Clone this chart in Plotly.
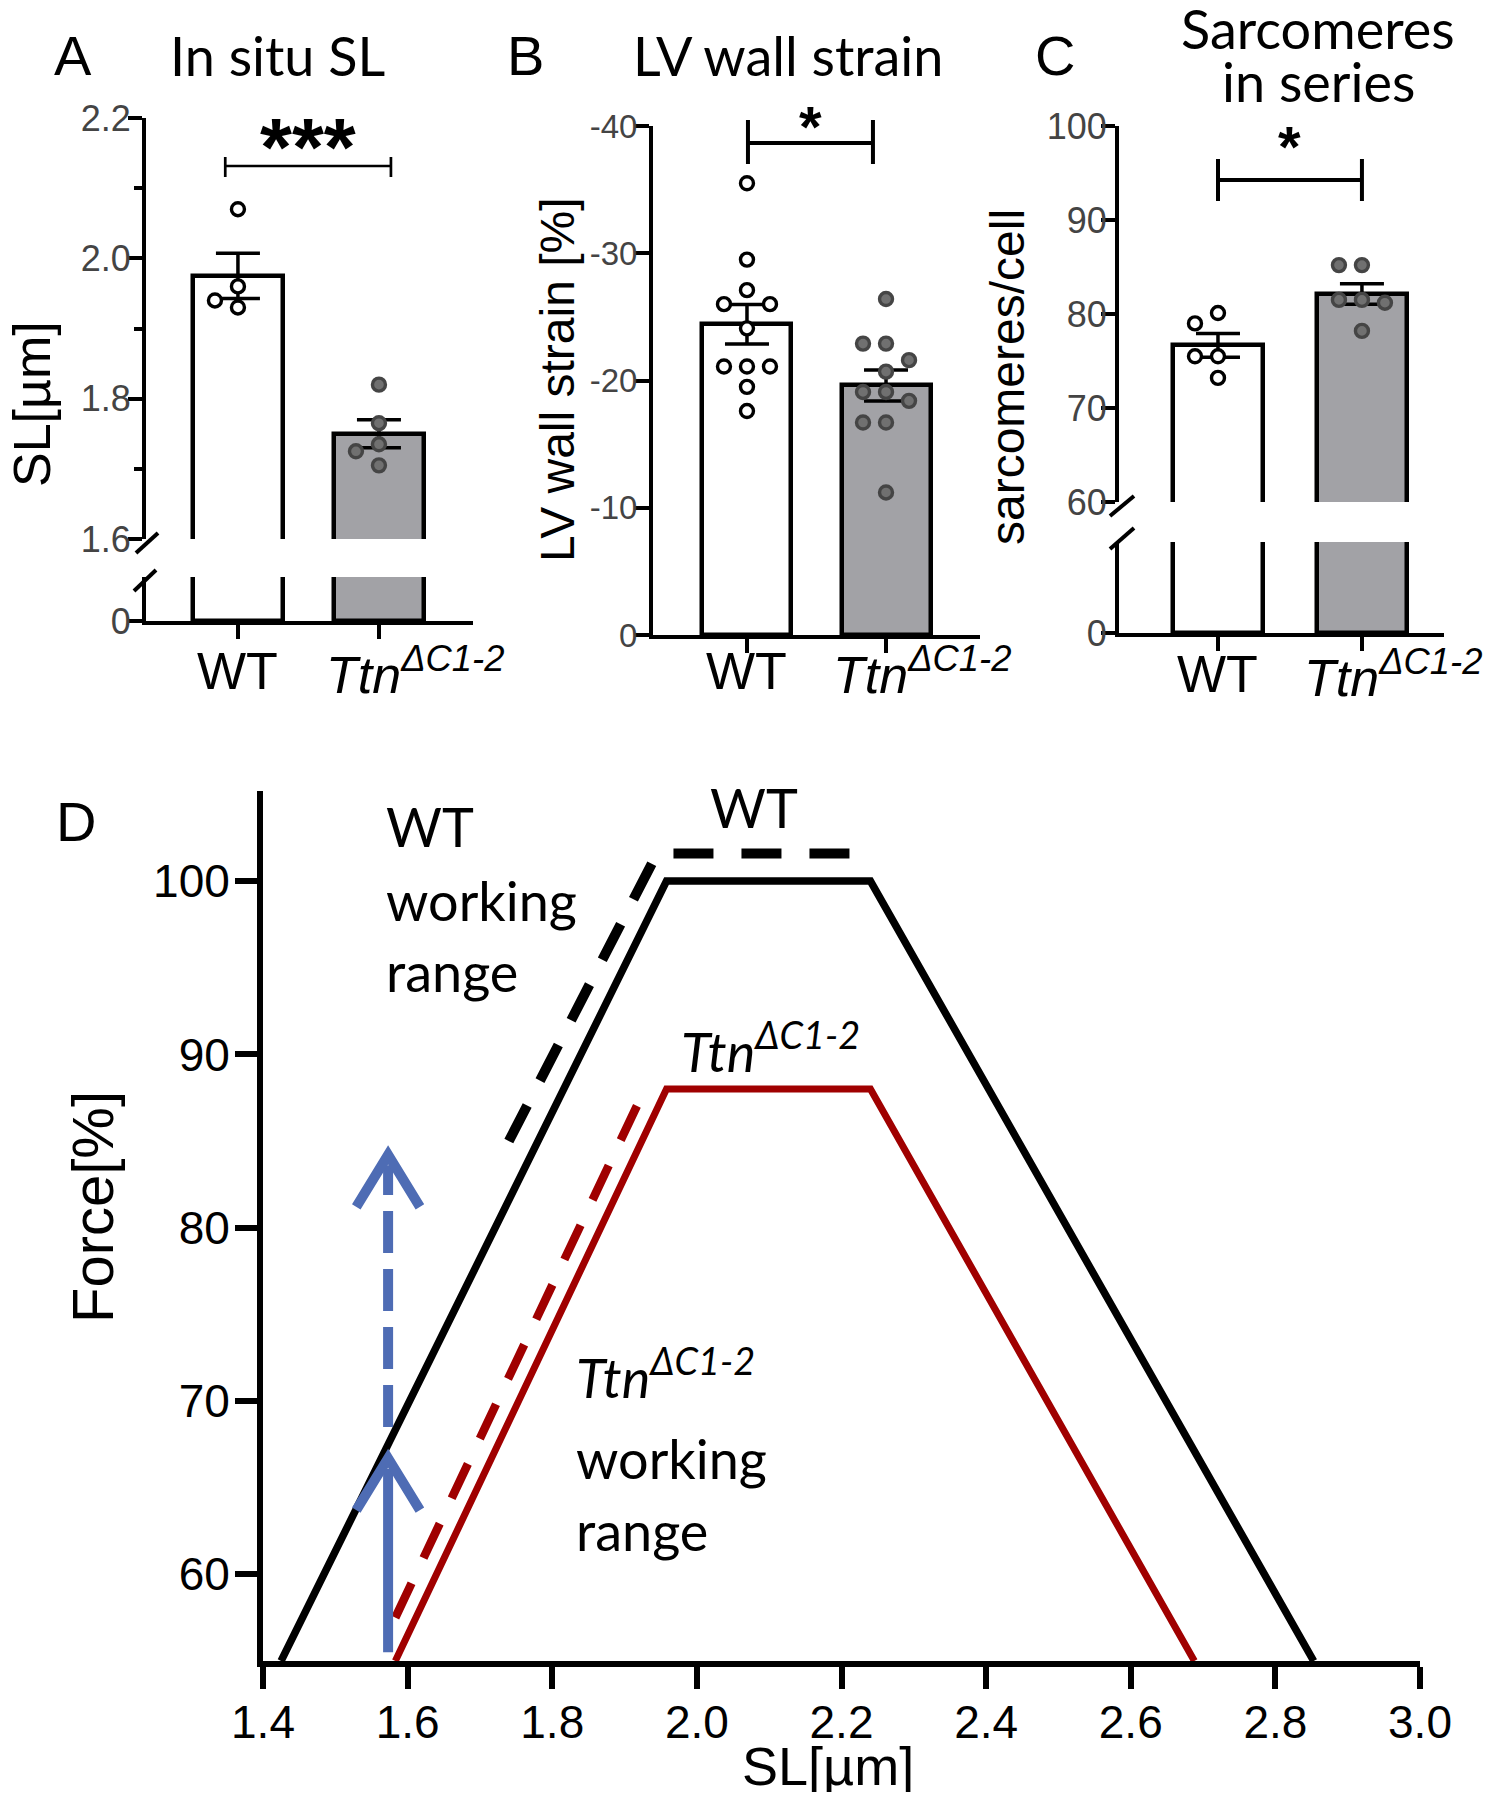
import numpy as np
import plotly.graph_objects as go

# ---------------- data ----------------
group_pos = [0, 1]
group_names = ["WT", "<i>Ttn</i><sup><i>ΔC1-2</i></sup>"]

# A: in situ sarcomere length [um]
sl_wt = [2.07, 1.96, 1.94, 1.93]
sl_ttn = [1.82, 1.765, 1.735, 1.725, 1.705]
# B: LV wall strain [%]
strain_wt = [-35.5, -29.5, -27.1, -26.0, -26.0, -24.1, -21.1, -21.1, -21.1, -19.5, -17.6]
strain_ttn = [-26.4, -22.9, -22.9, -21.6, -20.7, -19.1, -19.1, -18.4, -16.7, -16.7, -11.2]
# C: sarcomeres in series per cell
sarc_wt = [80.1, 79.0, 75.5, 75.5, 73.2]
sarc_ttn = [85.2, 85.2, 81.5, 81.5, 81.2, 78.2]

sig_a, sig_b, sig_c = "***", "*", "*"

a_ticks = [1.6, 1.8, 2.0, 2.2]
a_minor = [1.7, 1.9, 2.1]
b_ticks = [0, -10, -20, -30, -40]
b_ticktext = ["0", "-10", "-20", "-30", "-40"]
c_ticks = [60, 70, 80, 90, 100]

# D: schematic force-SL relations
wt_fl_sl = [1.425, 1.958, 2.24, 2.853]
wt_fl_force = [55, 100, 100, 55]
ttn_fl_sl = [1.583, 1.958, 2.24, 2.688]
ttn_fl_force = [55, 88, 88, 55]
wt_range_sl = [1.74, 1.945, 2.22]
wt_range_force = [85.0, 101.6, 101.6]
ttn_range_sl = [1.583, 1.928]
ttn_range_force = [57.5, 88.0]
arrow_sl = 1.573
arrow_solid_force = [55.5, 66.7]
arrow_dashed_force = [68.5, 84.2]
d_xticks = [1.4, 1.6, 1.8, 2.0, 2.2, 2.4, 2.6, 2.8, 3.0]
d_yticks = [60, 70, 80, 90, 100]

# ---------------- styling / layout helpers ----------------
W, H, OFF = 1476, 1784, 8
def fx(p):
    return (p - OFF) / W
def fy(p):
    return 1 - (p - OFF) / H

ARIAL = "Liberation Sans, Arial, sans-serif"
LATO = "Lato, Open Sans, sans-serif"
GRAY_BAR = "#a2a2a6"
DOT_FILL = "#707070"
DOT_LINE = "#454545"
RED = "#a00000"
BLUE = "#4e6cb4"
TICKC = "#444444"

def mean_sem(v):
    a = np.asarray(v, float)
    return a.mean(), a.std(ddof=1) / np.sqrt(len(a))

def swarm(vals, ypx, xpx, slot=23.0, mind=17.0):
    placed, offs = [], []
    for v in vals:
        yv = v * ypx
        for k in [0, -1, 1, -2, 2, -3, 3]:
            xv = k * slot
            if all(np.hypot(xv - px_, yv - py_) >= mind for px_, py_ in placed):
                break
        placed.append((xv, yv))
        offs.append(xv / xpx)
    return offs

fig = go.Figure()

def bar_panel(xa, ya_up, ya_lo, wt, ttn, xpx, ypx, bw):
    m1, s1 = mean_sem(wt)
    m2, s2 = mean_sem(ttn)
    for ya, err in [(ya_up, True), (ya_lo, False)]:
        if ya is None:
            continue
        fig.add_trace(go.Bar(
            x=group_pos, y=[m1, m2], width=bw, xaxis=xa, yaxis=ya,
            marker=dict(color=["white", GRAY_BAR], line=dict(color="black", width=4.5)),
            error_y=dict(type="data", array=[s1, s2], color="black", thickness=3.5, width=22, visible=err),
            showlegend=False, hoverinfo="skip"))
    for g, vals, fill, lc in [(0, wt, "white", "black"), (1, ttn, DOT_FILL, DOT_LINE)]:
        offs = swarm(vals, ypx, xpx)
        fig.add_trace(go.Scatter(
            x=[g + o for o in offs], y=vals, mode="markers", xaxis=xa, yaxis=ya_up,
            marker=dict(size=13, color=fill, line=dict(color=lc, width=3.4)),
            cliponaxis=False, showlegend=False, hoverinfo="skip"))

# panel A
bar_panel("x", "y", "y2", sl_wt, sl_ttn, 141.0, (539 - 118) / 0.6, 0.64)
# panel B
bar_panel("x2", "y3", None, strain_wt, strain_ttn, 139.0, (635 - 126) / 40.0, 0.64)
# panel C
bar_panel("x3", "y4", "y5", sarc_wt, sarc_ttn, 144.0, (502 - 126) / 40.0, 0.62)

# panel D lines
fig.add_trace(go.Scatter(x=wt_fl_sl, y=wt_fl_force, mode="lines", xaxis="x4", yaxis="y6",
                         line=dict(color="black", width=7.5), showlegend=False, hoverinfo="skip"))
fig.add_trace(go.Scatter(x=ttn_fl_sl, y=ttn_fl_force, mode="lines", xaxis="x4", yaxis="y6",
                         line=dict(color=RED, width=7), showlegend=False, hoverinfo="skip"))
fig.add_trace(go.Scatter(x=wt_range_sl, y=wt_range_force, mode="lines", xaxis="x4", yaxis="y6",
                         line=dict(color="black", width=10, dash="40px,28px"), showlegend=False, hoverinfo="skip"))
fig.add_trace(go.Scatter(x=ttn_range_sl, y=ttn_range_force, mode="lines", xaxis="x4", yaxis="y6",
                         line=dict(color=RED, width=8.5, dash="38px,28px"), showlegend=False, hoverinfo="skip"))
chev_dx, chev_dy = 0.044, 3.0
for f, dash in [(arrow_solid_force, "solid"), (arrow_dashed_force, "42px,16px")]:
    fig.add_trace(go.Scatter(x=[arrow_sl, arrow_sl], y=[f[0], f[1] - 0.6], mode="lines", xaxis="x4", yaxis="y6",
                             line=dict(color=BLUE, width=10, dash=dash), showlegend=False, hoverinfo="skip"))
    fig.add_trace(go.Scatter(x=[arrow_sl - chev_dx, arrow_sl, arrow_sl + chev_dx],
                             y=[f[1] - chev_dy, f[1], f[1] - chev_dy], mode="lines", xaxis="x4", yaxis="y6",
                             line=dict(color=BLUE, width=10), showlegend=False, hoverinfo="skip"))

# ---------------- axes ----------------
def ax_common(lw=4, tl=14, font=None, standoff=-10):
    return dict(showline=True, linewidth=lw, linecolor="black", ticks="outside", ticklen=tl,
                tickwidth=lw, tickcolor="black", showgrid=False, zeroline=False, fixedrange=True,
                automargin=False, ticklabelstandoff=standoff,
                tickfont=font or dict(family=ARIAL, size=36, color=TICKC))

BFONT = dict(family=ARIAL, size=33, color=TICKC)
DFONT = dict(family=ARIAL, size=46, color="black")
lay = dict(
    width=W, height=H, margin=dict(l=0, r=0, t=0, b=0, pad=0, autoexpand=False),
    paper_bgcolor="white", plot_bgcolor="rgba(0,0,0,0)", showlegend=False, bargap=0,
    xaxis=dict(domain=[fx(146), fx(473)], range=[-0.652, 1.667], anchor="y2",
               tickvals=group_pos, showticklabels=False, **ax_common()),
    yaxis=dict(domain=[fy(539), fy(118)], range=[1.6, 2.2], anchor="x", tickvals=a_ticks,
               tickformat=".1f", minor=dict(tickvals=a_minor, ticks="outside", ticklen=8, tickwidth=4,
                                            tickcolor="black"), **ax_common()),
    yaxis2=dict(domain=[fy(621), fy(577)], range=[0, 1], anchor="x", tickvals=[0], **ax_common()),
    xaxis2=dict(domain=[fx(653), fx(980)], range=[-0.676, 1.676], anchor="y3",
                tickvals=group_pos, showticklabels=False, **ax_common()),
    yaxis3=dict(domain=[fy(635), fy(126)], range=[0, -40], anchor="x2", tickvals=b_ticks,
                ticktext=b_ticktext, **ax_common(font=BFONT, standoff=-9)),
    xaxis3=dict(domain=[fx(1119), fx(1444)], range=[-0.6875, 1.57], anchor="y5",
                tickvals=group_pos, showticklabels=False, **ax_common()),
    yaxis4=dict(domain=[fy(502), fy(126)], range=[60, 100], anchor="x3", tickvals=c_ticks,
                **ax_common(standoff=-13)),
    yaxis5=dict(domain=[fy(633), fy(542)], range=[0, 1], anchor="x3", tickvals=[0],
                **ax_common(standoff=-13)),
    xaxis4=dict(domain=[fx(263), fx(1420)], range=[1.4, 3.0], anchor="y6", tickvals=d_xticks,
                tickformat=".1f", **ax_common(lw=6, tl=22, font=DFONT, standoff=-6)),
    yaxis6=dict(domain=[fy(1661), fy(791)], range=[55, 105.2], anchor="x4", tickvals=d_yticks,
                **ax_common(lw=6, tl=22, font=DFONT, standoff=-4)),
)
fig.update_layout(**lay)

# ---------------- annotations ----------------
ann = []
def txt(text, x, y, size, family=ARIAL, xanchor="center", angle=0, color="black", xref="paper", xshift=0):
    ann.append(dict(text=text, x=x if xref != "paper" else fx(x), y=fy(y), xref=xref, yref="paper",
                    xanchor=xanchor, yanchor="middle", showarrow=False, textangle=angle, xshift=xshift,
                    font=dict(family=family, size=size, color=color)))

# panel letters and titles
txt("A", 73, 55, 56)
txt("In situ SL", 277, 55, 54, LATO)
txt("B", 525, 55, 56)
txt("LV wall strain", 788, 55, 54, LATO)
txt("C", 1055, 55, 56)
txt("Sarcomeres", 1318, 28, 54, LATO)
txt("in series", 1318, 82, 54, LATO)
# y titles
txt("SL[µm]", 32, 404, 52, angle=-90)
txt("LV wall strain [%]", 557, 380, 48, angle=-90)
txt("sarcomeres/cell", 1008, 377, 48, angle=-90)
# category labels
for xa, yv, sh in [("x", 671, 36), ("x2", 671, 36), ("x3", 674, 31)]:
    txt(group_names[0], group_pos[0], yv, 52, xref=xa)
    txt(group_names[1], group_pos[1], yv, 52, xref=xa, xshift=sh)

# significance brackets
shapes = []
def bracket(xa, x0, x1, y, yt, yb, lw, label, ylab, size):
    for xs in (x0, x1):
        shapes.append(dict(type="line", xref=xa, yref="paper", x0=xs, x1=xs, y0=fy(yt), y1=fy(yb),
                           line=dict(color="black", width=lw)))
    shapes.append(dict(type="line", xref=xa, yref="paper", x0=x0, x1=x1, y0=fy(y), y1=fy(y),
                       line=dict(color="black", width=lw)))
    txt("<b>" + label + "</b>", (x0 + x1) / 2, ylab, size, xref=xa)

bracket("x", -0.09, 1.085, 166, 157, 177, 2.7, sig_a, 146, 82)
bracket("x2", 0.007, 0.906, 143, 120, 164, 4, sig_b, 126, 58)
bracket("x3", 0.0, 1.0, 180, 159, 201, 4, sig_c, 146, 58)

# axis break slashes
for (xa0, ya0, xa1, ya1) in [(136, 553, 158, 533), (134, 591, 156, 570),
                             (1110, 516, 1134, 496), (1110, 549, 1134, 528)]:
    shapes.append(dict(type="line", xref="paper", yref="paper", x0=fx(xa0), y0=fy(ya0), x1=fx(xa1), y1=fy(ya1),
                       line=dict(color="black", width=4)))

# panel D text
txt("D", 76, 821, 56)
txt("Force[%]", 92, 1207, 58, angle=-90)
txt("SL[µm]", 828, 1766, 54)
txt("WT", 384, 826, 54, LATO, xanchor="left")
txt("working", 384, 900, 54, LATO, xanchor="left")
txt("range", 384, 971, 54, LATO, xanchor="left")
txt("WT", 708, 808, 54, LATO, xanchor="left")
txt("<i>Ttn</i><sup><i>ΔC1-2</i></sup>", 679, 1048, 54, LATO, xanchor="left")
txt("<i>Ttn</i><sup><i>ΔC1-2</i></sup>", 574, 1374, 54, LATO, xanchor="left")
txt("working", 574, 1458, 54, LATO, xanchor="left")
txt("range", 574, 1530, 54, LATO, xanchor="left")

fig.update_layout(annotations=ann, shapes=shapes)
fig.write_html("out.html")
